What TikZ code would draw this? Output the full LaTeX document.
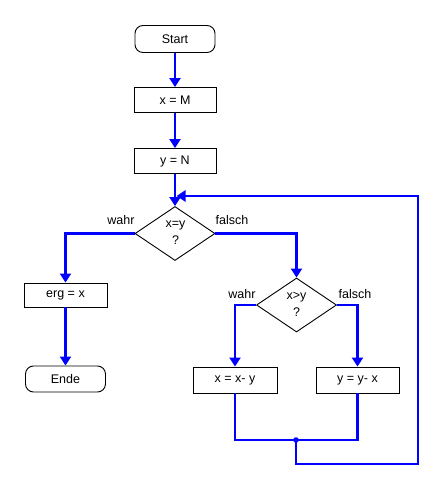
\documentclass[tikz,border=0pt]{standalone}
\usepackage{fontspec}
\setmainfont{Liberation Sans}
\usetikzlibrary{shapes.geometric,arrows.meta}
\definecolor{flowblue}{RGB}{0,0,255}
\begin{document}
\begin{tikzpicture}[x=1pt,y=-1pt,
  every node/.style={font=\fontsize{12.5}{17}\selectfont},
  term/.style={draw,rounded corners=8pt,minimum width=80pt,minimum height=27pt,inner sep=0pt,line width=0.9pt},
  proc/.style={draw,minimum width=82pt,minimum height=25pt,inner sep=0pt,line width=0.9pt},
  dia/.style={draw,diamond,minimum width=80pt,minimum height=54pt,inner sep=0pt,line width=0.9pt},
  flow/.style={draw=flowblue,line width=2.6pt,-{Triangle[length=9pt,width=11pt]}},
  flowline/.style={draw=flowblue,line width=2.6pt},
  lbl/.style={inner sep=0pt}]
\useasboundingbox (0,0) rectangle (442,489);
\node[term] (start) at (175,39) {Start};
\node[proc] (xm) at (175,100) {x = M};
\node[proc] (yn) at (175,161) {y = N};
\node[dia] (d1) at (175,233.5) {};
\node[align=center,inner sep=0pt] (d1t) at (175.5,233) {x=y\\?};
\node[lbl] (w1) at (121,220) {wahr};
\node[lbl] (f1) at (232,220) {falsch};
\node[proc,minimum width=83pt,minimum height=24pt] (erg) at (65.5,295) {erg = x};
\node[term,minimum height=26pt] (ende) at (65.5,379) {Ende};
\node[dia] (d2) at (296.5,305) {};
\node[align=center,inner sep=0pt] (d2t) at (296.5,304.5) {x>y\\?};
\node[lbl] (w2) at (242,294) {wahr};
\node[lbl] (f2) at (355,294) {falsch};
\node[proc,minimum width=84pt,minimum height=26pt] (xy) at (235,380) {x = x- y};
\node[proc,minimum width=83pt,minimum height=26pt] (yx) at (357.5,380) {y = y- x};
\coordinate (dot) at (296,440);
\coordinate (br) at (418,464);
\coordinate (j) at (175,196);

\draw[flow] (start) -- (xm);
\draw[flow] (xm) -- (yn);
\draw[flow] (yn) -- (d1);
\draw[flow] (d1.west) -| (erg);
\draw[flow] (erg) -- (ende);
\draw[flow] (d1.east) -| (d2);
\draw[flow] (d2.west) -| (xy);
\draw[flow] (d2.east) -| (yx);
\draw[flowline] (xy.south) |- (dot) -| (yx.south);
\fill[flowblue] (dot) circle (2.8pt);
\draw[flow] (dot) |- (br) |- ([xshift=1.5pt]j);
\end{tikzpicture}
\end{document}
